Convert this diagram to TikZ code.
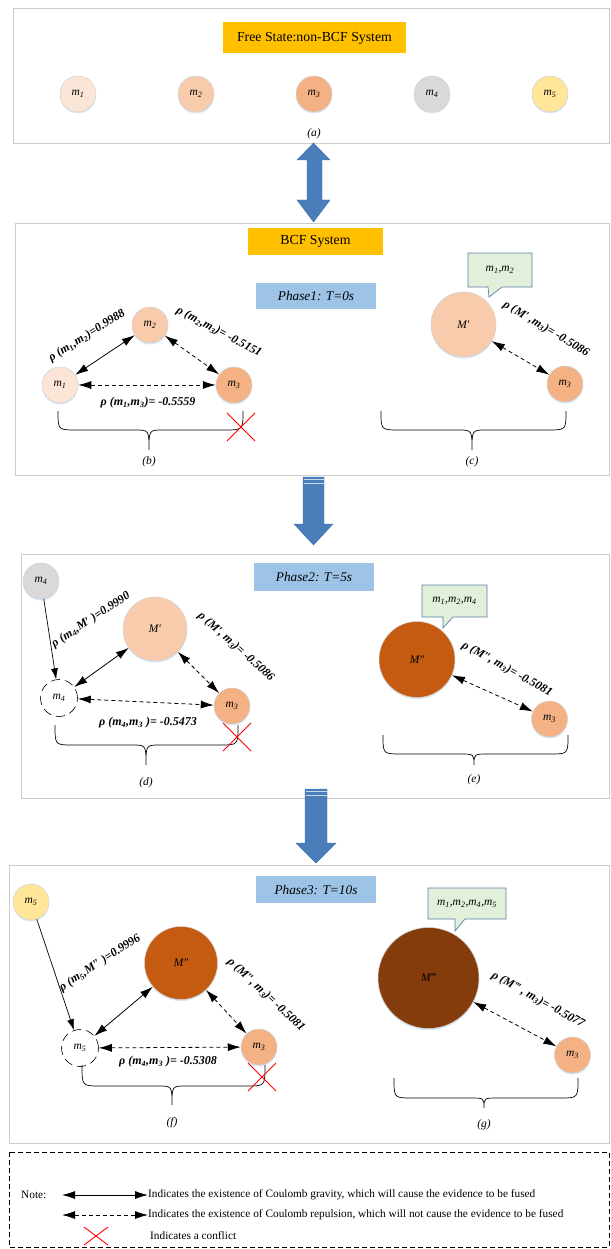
\documentclass[tikz,border=0pt]{standalone}
\usepackage{fontspec}
\setmainfont{Liberation Serif}
\usetikzlibrary{arrows.meta,shadows}
\definecolor{ttl}{HTML}{FFC000}
\definecolor{phs}{HTML}{9DC3E6}
\definecolor{cm1}{HTML}{FBE5D6}
\definecolor{cm2}{HTML}{F8CBAD}
\definecolor{cm3}{HTML}{F4B183}
\definecolor{cm4}{HTML}{D9D9D9}
\definecolor{cm5}{HTML}{FFE699}
\definecolor{cmA}{HTML}{C55A11}
\definecolor{cmB}{HTML}{843C0C}
\definecolor{cfill}{HTML}{E2EFDA}
\definecolor{cline}{HTML}{5B7FA6}
\definecolor{barrow}{HTML}{4A7EBB}
\definecolor{barrowd}{HTML}{3B6DA6}
\definecolor{shade}{HTML}{BDD7EE}
\newcommand\mmm[1]{\textit{m}\textsubscript{\textit{#1}}}
\newcommand\mybrace[6]{\draw[bracestyle] (#1,#3) .. controls (#1,#4) and (#1,#4) .. ({#1+18},#4) -- ({#5-14},#4) .. controls (#5,#4) and (#5,#4) .. (#5,#6) .. controls (#5,#4) and (#5,#4) .. ({#5+14},#4) -- ({#2-18},#4) .. controls (#2,#4) and (#2,#4) .. (#2,#3);}
\newcommand\mycross[3]{\draw[crossstyle] ({#1-#3},{#2-#3}) -- ({#1+#3},{#2+#3}) ({#1-#3},{#2+#3}) -- ({#1+#3},{#2-#3});}
\begin{document}
\begin{tikzpicture}[x=1pt,y=-1pt,
  panel/.style={draw=gray!40, line width=0.9pt},
  mass/.style={circle, draw=gray!35, line width=0.5pt, minimum size=36pt, inner sep=0pt, font=\fontsize{11.5}{13}\selectfont, drop shadow={shadow xshift=0pt, shadow yshift=-1.5pt, fill=shade, opacity=0.6}},
  ghost/.style={circle, draw=black, line width=0.6pt, dash pattern=on 9pt off 5pt, minimum size=37pt, inner sep=0pt, font=\fontsize{11.5}{13}\selectfont},
  titlebox/.style={fill=ttl, font=\fontsize{13.8}{15}\selectfont, inner sep=0pt},
  phasebox/.style={fill=phs, font=\fontsize{13.3}{15}\selectfont\itshape, inner sep=0pt},
  grav/.style={{Latex[length=13pt,width=8pt]}-{Latex[length=13pt,width=8pt]}, line width=0.8pt},
  rep/.style={grav, dash pattern=on 4pt off 3pt},
  feed/.style={-{Latex[length=11pt,width=7pt]}, line width=0.7pt},
  lbl/.style={font=\fontsize{12}{14}\selectfont\bfseries\itshape, inner sep=0pt},
  captext/.style={font=\fontsize{11.5}{13}\selectfont\itshape, inner sep=0pt},
  bracestyle/.style={draw=black, line width=0.7pt},
  crossstyle/.style={draw=red, line width=0.9pt},
  bigarrow/.style={fill=barrow, draw=barrowd, line width=0.4pt},
  calloutstyle/.style={fill=cfill, draw=cline, line width=0.7pt},
  calltext/.style={font=\fontsize{11.5}{13}\selectfont, inner sep=0pt},
  notetext/.style={font=\fontsize{11.3}{13}\selectfont, inner sep=0pt, anchor=west}]
\useasboundingbox (0,0) rectangle (610,1249);

% ---------------- panel (a)
\draw[panel] (13,8) rectangle (609,143);
\node[titlebox, minimum width=183pt, minimum height=31pt] (t1) at (314.5,38) {Free State:non-BCF System};
\node[mass, fill=cm1] (a1) at (78,94) {\mmm{1}};
\node[mass, fill=cm2] (a2) at (196,94) {\mmm{2}};
\node[mass, fill=cm3] (a3) at (314,94) {\mmm{3}};
\node[mass, fill=cm4] (a4) at (432,94) {\mmm{4}};
\node[mass, fill=cm5] (a5) at (550,94) {\mmm{5}};
\node[captext] (la) at (314,134) {(a)};

% double arrow
\draw[bigarrow] (313.5,143) -- (330,160) -- (322,160) -- (322,200) -- (330,200) -- (313.5,222) -- (297,200) -- (307,200) -- (307,160) -- (297,160) -- cycle;

% ---------------- panel (b),(c)
\draw[panel] (15,223) rectangle (609,475);
\node[titlebox, minimum width=135pt, minimum height=27pt] (t2) at (315.5,241.5) {BCF System};
\node[phasebox, minimum width=120pt, minimum height=26pt] (p1) at (316,296) {Phase1: T=0s};

\node[mass, fill=cm1] (b1) at (60,385) {\mmm{1}};
\node[mass, fill=cm2] (b2) at (150,325) {\mmm{2}};
\node[mass, fill=cm3] (b3) at (234,385) {\mmm{3}};
\draw[grav] (b1) -- (b2);
\draw[rep] (b2) -- (b3);
\draw[rep] (b1) -- (b3);
\node[lbl, rotate=32] (lb12) at (87,336) {ρ (m\textsubscript{1},m\textsubscript{2})=0.9988};
\node[lbl, rotate=-28] (lb23) at (219,332) {ρ (m\textsubscript{2},m\textsubscript{3})= -0.5151};
\node[lbl] (lb13) at (148,403) {ρ (m\textsubscript{1},m\textsubscript{3})= -0.5559};
\mybrace{58}{243}{411}{430}{149}{450}
\mycross{241}{427}{14}
\node[captext] (lbb) at (149,462) {(b)};

\draw[calloutstyle] (468,253) -- (532,253) -- (532,287) -- (502,287) -- (489,297) -- (488,287) -- (468,287) -- cycle;
\node[calltext] (cc) at (500,270) {\mmm{1},\mmm{2}};
\node[mass, fill=cm2, minimum size=65pt] (cM) at (463.5,324.5) {\textit{M′}};
\node[mass, fill=cm3] (c3) at (565,384) {\mmm{3}};
\draw[rep] (cM) -- (c3);
\node[lbl, rotate=-31] (lc) at (546,329) {ρ (M′ ,m\textsubscript{3})= -0.5086};
\mybrace{381}{566}{411}{430}{472}{450}
\node[captext] (lcc) at (472,462) {(c)};

% down arrow 1
\draw[bigarrow] (303,477) -- (324,477) -- (324,524) -- (333,524) -- (313.5,545) -- (294,524) -- (303,524) -- cycle;
\draw[white!70!barrow, line width=0.6pt] (303.5,479.5) -- (323.5,479.5) (303.5,483) -- (323.5,483);

% ---------------- panel (d),(e)
\draw[panel] (21,554) rectangle (609,798);
\node[phasebox, minimum width=120pt, minimum height=28pt] (p2) at (314,577) {Phase2: T=5s};

\node[mass, fill=cm4] (d4) at (41,581) {\mmm{4}};
\node[ghost] (d4g) at (59,698) {\mmm{4}};
\node[mass, fill=cm2, minimum size=64pt] (dM) at (155,629) {\textit{M′}};
\node[mass, fill=cm3] (d3) at (232,706) {\mmm{3}};
\draw[feed] (d4) -- (d4g);
\draw[grav] (d4g) -- (dM);
\draw[rep] (dM) -- (d3);
\draw[rep] (d4g) -- (d3);
\node[lbl, rotate=33] (ld1) at (91,620) {ρ (m\textsubscript{4},M′ )=0.9990};
\node[lbl, rotate=-42] (ld2) at (236,647) {ρ (M′, m\textsubscript{3})= -0.5086};
\node[lbl] (ld3) at (148,723) {ρ (m\textsubscript{4},m\textsubscript{3} )= -0.5473};
\mybrace{55}{238}{725}{745}{146}{765}
\mycross{237}{737}{14}
\node[captext] (ldd) at (146,783) {(d)};

\draw[calloutstyle] (422,585) -- (487,585) -- (487,617) -- (453,617) -- (443,628) -- (443,617) -- (422,617) -- cycle;
\node[calltext] (ce) at (454.5,601) {\mmm{1},\mmm{2},\mmm{4}};
\node[mass, fill=cmA, minimum size=76pt] (eM) at (417,659.5) {\textit{M″}};
\node[mass, fill=cm3] (e3) at (549.5,719) {\mmm{3}};
\draw[rep] (eM) -- (e3);
\node[lbl, rotate=-29] (le) at (507,669) {ρ (M″, m\textsubscript{3})= -0.5081};
\mybrace{383}{568}{735}{754}{474}{765}
\node[captext] (lee) at (474,780) {(e)};

% down arrow 2
\draw[bigarrow] (305,789) -- (327,789) -- (327,843) -- (336,843) -- (316,863) -- (296,843) -- (305,843) -- cycle;
\draw[white!70!barrow, line width=0.6pt] (305.5,791.5) -- (326.5,791.5) (305.5,795) -- (326.5,795);

% ---------------- panel (f),(g)
\draw[panel] (9,865) rectangle (609,1143);
\node[phasebox, minimum width=120pt, minimum height=27pt] (p3) at (316,889.5) {Phase3: T=10s};

\node[mass, fill=cm5] (f5) at (31,902) {\mmm{5}};
\node[ghost] (f5g) at (80,1048) {\mmm{5}};
\node[mass, fill=cmA, minimum size=73pt] (fM) at (181,963) {\textit{M″}};
\node[mass, fill=cm3] (f3) at (259,1047) {\mmm{3}};
\draw[feed] (f5) -- (f5g);
\draw[grav] (f5g) -- (fM);
\draw[rep] (fM) -- (f3);
\draw[rep] (f5g) -- (f3);
\node[lbl, rotate=33] (lf1) at (100,963) {ρ (m\textsubscript{5},M″ )=0.9996};
\node[lbl, rotate=-43] (lf2) at (266,995) {ρ (M″, m\textsubscript{3})= -0.5081};
\node[lbl] (lf3) at (168,1062) {ρ (m\textsubscript{4},m\textsubscript{3} )= -0.5308};
\mybrace{82}{265}{1065}{1086}{172}{1105}
\mycross{262}{1077}{14}
\node[captext] (lff) at (172,1123) {(f)};

\draw[calloutstyle] (428,888) -- (506,888) -- (506,919) -- (465,919) -- (455,931) -- (455,919) -- (428,919) -- cycle;
\node[calltext] (cg) at (467,903.5) {\mmm{1},\mmm{2},\mmm{4},\mmm{5}};
\node[mass, fill=cmB, minimum size=101pt] (gM) at (428.5,978) {\textit{M‴}};
\node[mass, fill=cm3] (g3) at (572.5,1055) {\mmm{3}};
\draw[rep] (gM) -- (g3);
\node[lbl, rotate=-29] (lg) at (538,1000) {ρ (M‴ , m\textsubscript{3})= -0.5077};
\mybrace{394}{578}{1078}{1098}{484}{1108}
\node[captext] (lgg) at (484,1125) {(g)};

% ---------------- note
\draw[black, line width=0.6pt, dash pattern=on 5pt off 3pt] (9,1152) rectangle (609,1247);
\node[notetext] (nt) at (21,1195) {Note:};
\coordinate (n1s) at (62,1195);
\node[notetext] (n1) at (148,1195) {Indicates the existence of Coulomb gravity, which will cause the evidence to be fused};
\draw[grav] (n1s) -- (n1.west);
\coordinate (n2s) at (62,1215);
\node[notetext] (n2) at (148,1215) {Indicates the existence of Coulomb repulsion, which will not cause the evidence to be fused};
\draw[rep] (n2s) -- (n2.west);
\draw[crossstyle] (84,1227) -- (108,1245) (84,1245) -- (108,1227);
\node[notetext] (n3) at (150,1236) {Indicates a conflict};
\end{tikzpicture}
\end{document}
